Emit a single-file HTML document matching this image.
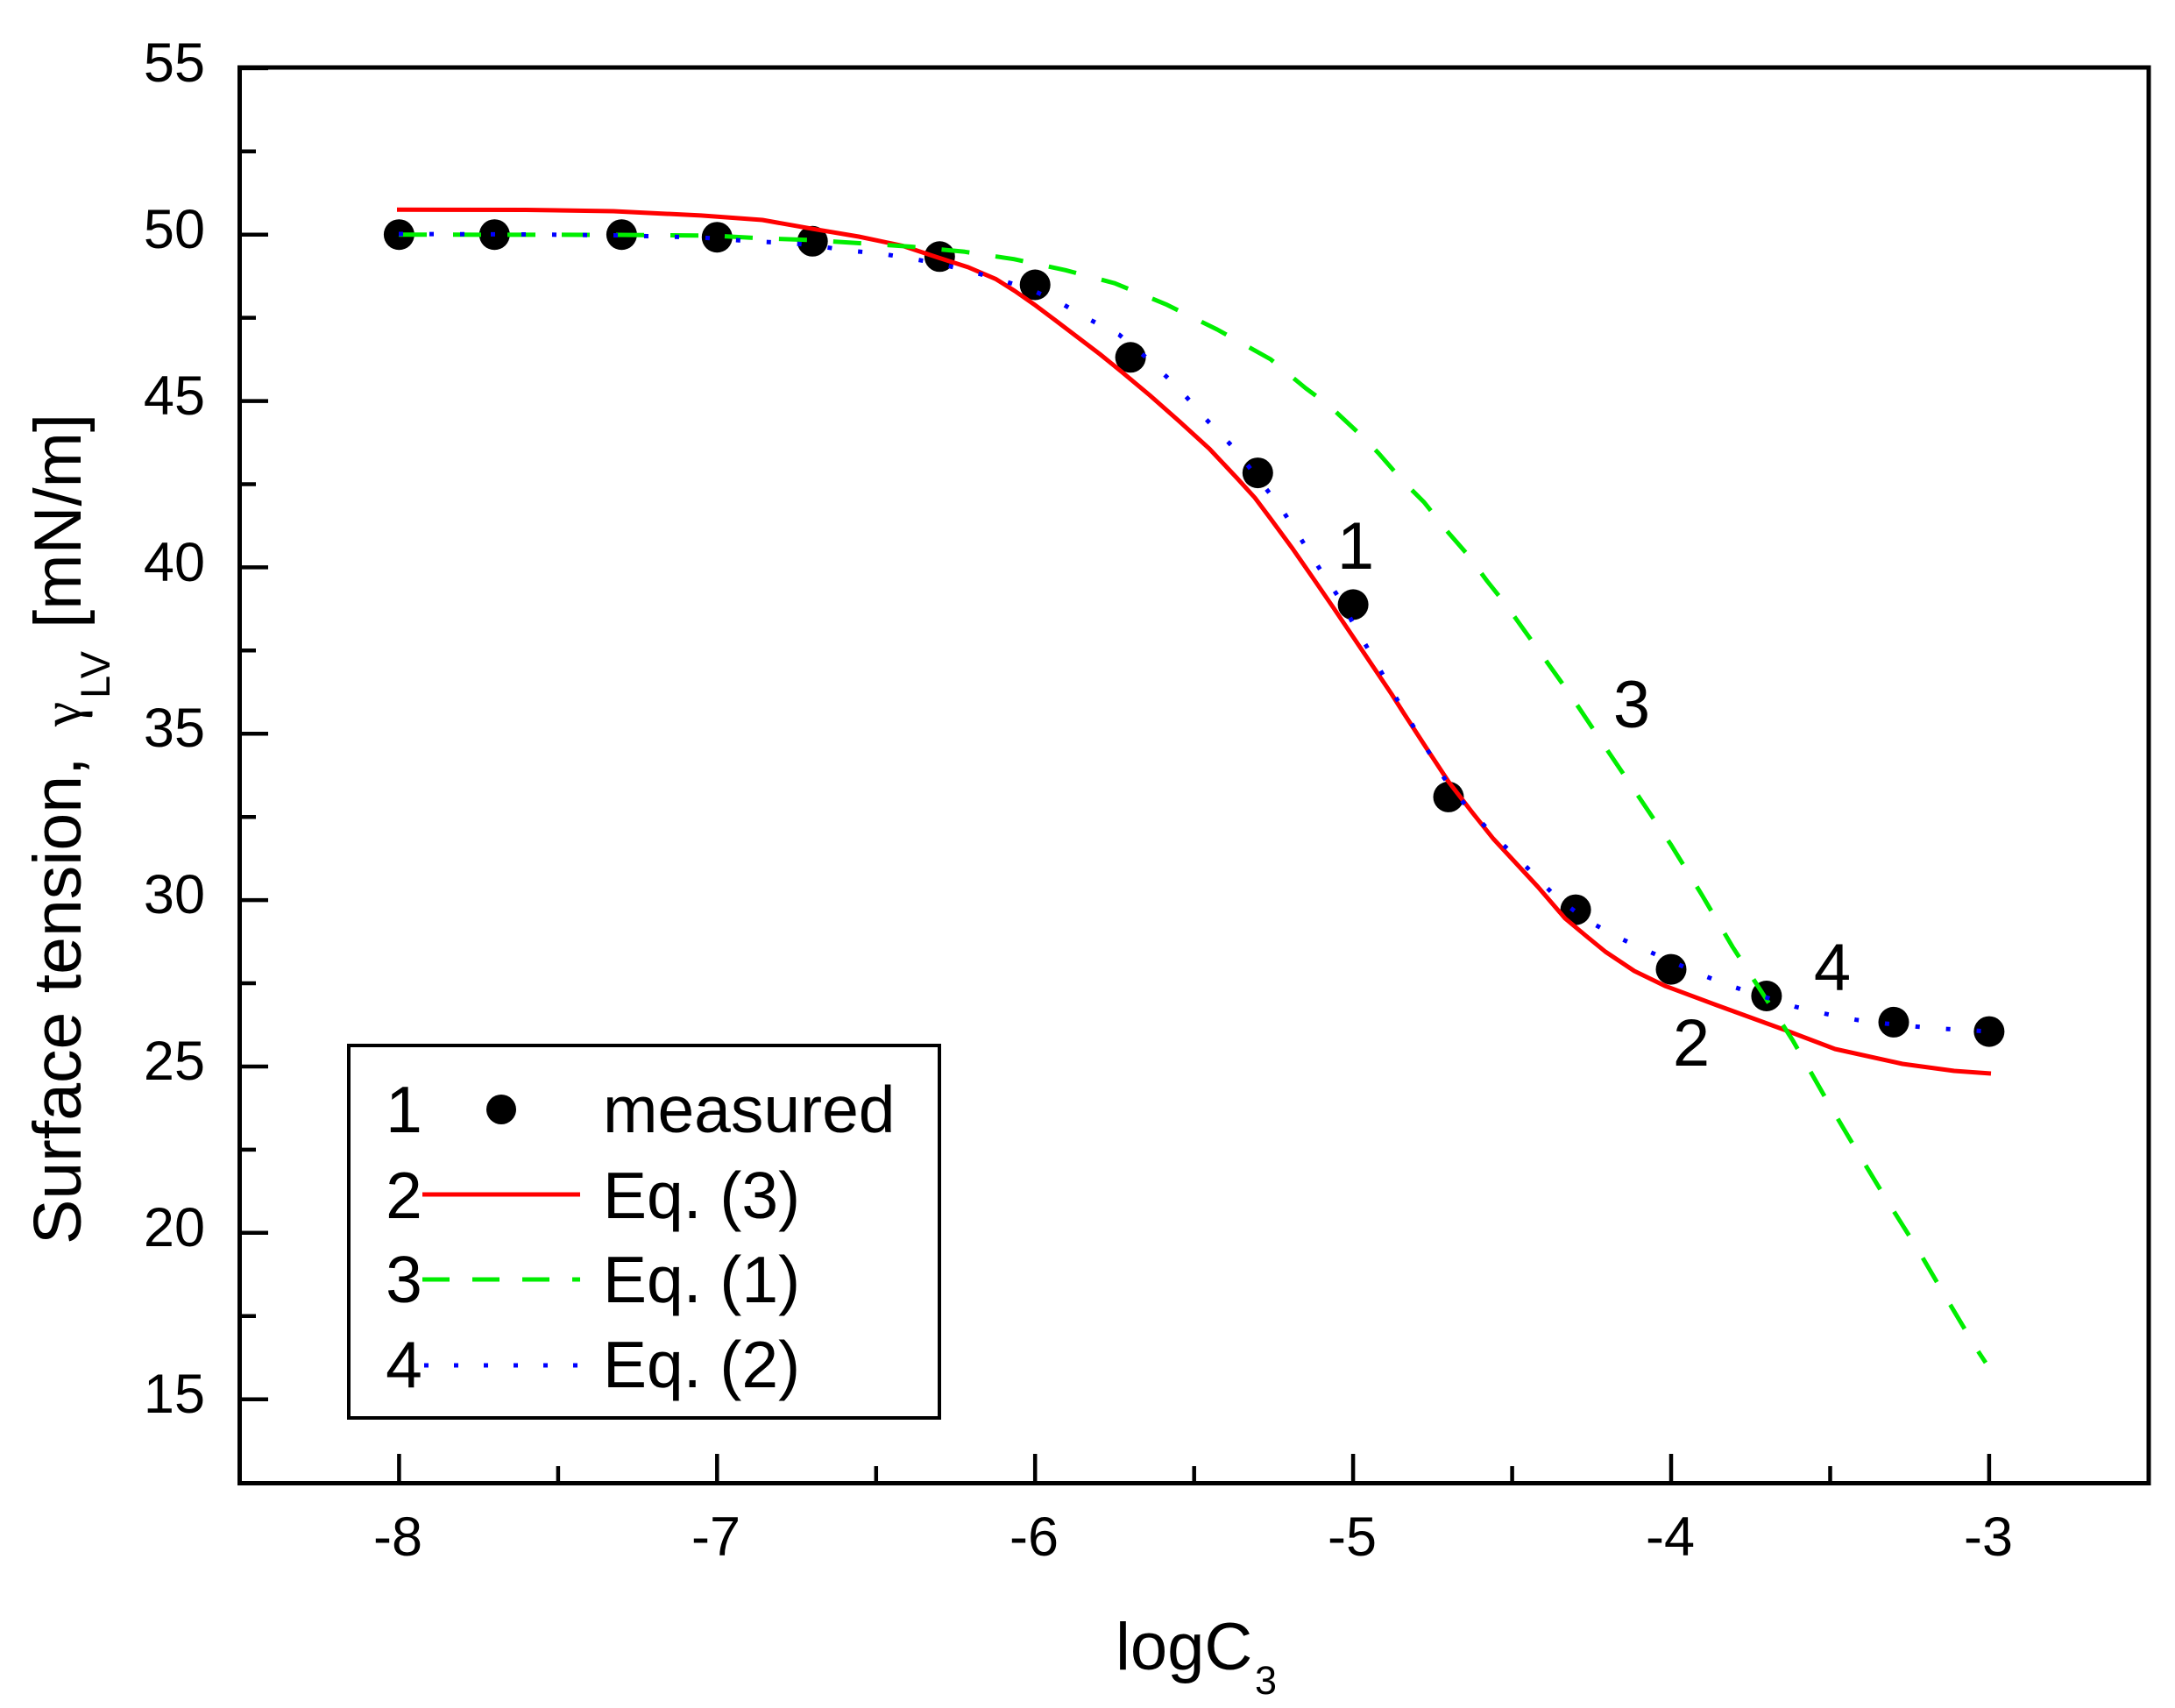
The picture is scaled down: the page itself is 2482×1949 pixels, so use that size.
<!DOCTYPE html>
<html>
<head>
<meta charset="utf-8">
<style>
  html, body { margin: 0; padding: 0; background: #ffffff; }
  svg { display: block; }
  text { font-family: "Liberation Sans", Arial, sans-serif; fill: #000; }
</style>
</head>
<body>
<svg width="2482" height="1949" viewBox="0 0 2482 1949" xmlns="http://www.w3.org/2000/svg">
  <rect x="0" y="0" width="2482" height="1949" fill="#ffffff"/>

  <!-- data points -->
  <g fill="#000">
    <circle cx="455.4" cy="267.7" r="17.5"/>
    <circle cx="564.3" cy="267.7" r="17.5"/>
    <circle cx="709.4" cy="267.7" r="17.5"/>
    <circle cx="818.3" cy="270.7" r="17.5"/>
    <circle cx="927.2" cy="275.3" r="17.5"/>
    <circle cx="1072.3" cy="292.8" r="17.5"/>
    <circle cx="1181.2" cy="325.0" r="17.5"/>
    <circle cx="1290.1" cy="407.8" r="17.5"/>
    <circle cx="1435.3" cy="539.6" r="17.5"/>
    <circle cx="1544.1" cy="689.9" r="17.5"/>
    <circle cx="1653.0" cy="909.4" r="17.5"/>
    <circle cx="1798.1" cy="1038.1" r="17.5"/>
    <circle cx="1907.0" cy="1106.1" r="17.5"/>
    <circle cx="2015.9" cy="1136.5" r="17.5"/>
    <circle cx="2161.0" cy="1166.4" r="17.5"/>
    <circle cx="2269.9" cy="1177.1" r="17.5"/>
  </g>

  <!-- Eq. (3) red solid -->
  <polyline fill="none" stroke="#ff0000" stroke-width="5" stroke-linejoin="round" stroke-linecap="butt"
    points="453,239.3 600,239.5 700,241 800,245.9 870,251 927.6,261.2 980,270 1029.6,280.4 1070,293.8 1105,305 1136.7,318.6 1158,332 1180,347.3 1205,366 1230,385 1255,404 1279.6,423.9 1312,451 1346,481 1380,512 1412,546 1432,568 1450,592 1475,626 1500,662 1522,694 1551,737 1588,792 1602,814 1628,854 1653,892 1680,927 1704,957 1730,985 1755,1012 1786,1048 1810,1068 1832,1086 1865,1108 1900,1125 1959,1147 2036,1175 2094,1197 2171,1214 2230,1222 2272,1225"/>

  <!-- Eq. (1) green dashed -->
  <polyline fill="none" stroke="#00ee00" stroke-width="5" stroke-dasharray="32 30" stroke-linejoin="round"
    points="455,267.7 700,268 815,268.9 869,272 925,273.9 983.7,277.7 1040,281.5 1101,287.3 1157,295.7 1216,308.3 1272,323.2 1330.6,347.3 1389,376 1450,410 1490,443 1517,463 1547,491 1573,517 1600,548 1625,573 1653,608 1674,632 1697,663 1717,688 1750,734 1791,791.4 1830.6,850.7 1868,906 1906.6,963.6 1942,1021 1977,1080.3 2012.8,1135.8 2046,1187.5 2083,1252.6 2117,1310 2151.8,1367.4 2188,1424.8 2222.6,1484 2257,1541.5 2266,1555"/>

  <!-- Eq. (2) blue dotted -->
  <polyline fill="none" stroke="#0000ff" stroke-width="5" stroke-dasharray="5 30" stroke-linejoin="round"
    points="455,267 600,267.5 700,268.5 800,271 833,273.5 866,275.8 902,277.3 935,281 968,286 1004,289.2 1037,294.5 1072,301 1105,309 1139,318.6 1175,330 1208,344.3 1241,363.4 1277,381.8 1310,409.7 1345,443 1376.5,478.6 1408.7,511.9 1435,545 1462,580 1484.7,615.2 1505.6,648.5 1528.6,683 1547,716.6 1568,752 1587,786 1607,819.3 1627.6,853.3 1648,887.8 1676,923.4 1709,957.8 1743,990.4 1777,1024.8 1811,1050 1845,1069 1880,1085 1914,1100 1948,1114.7 1981,1127 2015,1138 2049.5,1149 2083,1156.8 2118,1163.7 2152,1168 2186,1171.4 2219,1174 2270,1177"/>

  <!-- frame -->
  <rect x="273.5" y="77" width="2178.5" height="1615.5" fill="none" stroke="#000" stroke-width="5"/>

  <!-- y ticks -->
  <g stroke="#000" stroke-width="4.5">
    <line x1="273.5" y1="77.9" x2="306" y2="77.9"/>
    <line x1="273.5" y1="172.8" x2="292" y2="172.8"/>
    <line x1="273.5" y1="267.7" x2="306" y2="267.7"/>
    <line x1="273.5" y1="362.6" x2="292" y2="362.6"/>
    <line x1="273.5" y1="457.6" x2="306" y2="457.6"/>
    <line x1="273.5" y1="552.5" x2="292" y2="552.5"/>
    <line x1="273.5" y1="647.4" x2="306" y2="647.4"/>
    <line x1="273.5" y1="742.3" x2="292" y2="742.3"/>
    <line x1="273.5" y1="837.3" x2="306" y2="837.3"/>
    <line x1="273.5" y1="932.2" x2="292" y2="932.2"/>
    <line x1="273.5" y1="1027.1" x2="306" y2="1027.1"/>
    <line x1="273.5" y1="1122" x2="292" y2="1122"/>
    <line x1="273.5" y1="1217" x2="306" y2="1217"/>
    <line x1="273.5" y1="1311.9" x2="292" y2="1311.9"/>
    <line x1="273.5" y1="1406.8" x2="306" y2="1406.8"/>
    <line x1="273.5" y1="1501.7" x2="292" y2="1501.7"/>
    <line x1="273.5" y1="1596.7" x2="306" y2="1596.7"/>
  </g>
  <!-- x ticks -->
  <g stroke="#000" stroke-width="4.5">
    <line x1="455.4" y1="1692.5" x2="455.4" y2="1659"/>
    <line x1="636.9" y1="1692.5" x2="636.9" y2="1673"/>
    <line x1="818.3" y1="1692.5" x2="818.3" y2="1659"/>
    <line x1="999.8" y1="1692.5" x2="999.8" y2="1673"/>
    <line x1="1181.2" y1="1692.5" x2="1181.2" y2="1659"/>
    <line x1="1362.7" y1="1692.5" x2="1362.7" y2="1673"/>
    <line x1="1544.1" y1="1692.5" x2="1544.1" y2="1659"/>
    <line x1="1725.6" y1="1692.5" x2="1725.6" y2="1673"/>
    <line x1="1907" y1="1692.5" x2="1907" y2="1659"/>
    <line x1="2088.5" y1="1692.5" x2="2088.5" y2="1673"/>
    <line x1="2269.9" y1="1692.5" x2="2269.9" y2="1659"/>
  </g>

  <!-- y tick labels -->
  <g font-size="63" text-anchor="end">
    <text x="234" y="93">55</text>
    <text x="234" y="283">50</text>
    <text x="234" y="473">45</text>
    <text x="234" y="663">40</text>
    <text x="234" y="852">35</text>
    <text x="234" y="1042">30</text>
    <text x="234" y="1232">25</text>
    <text x="234" y="1422">20</text>
    <text x="234" y="1612">15</text>
  </g>
  <!-- x tick labels -->
  <g font-size="63" text-anchor="middle">
    <text x="454" y="1775">-8</text>
    <text x="817" y="1775">-7</text>
    <text x="1180" y="1775">-6</text>
    <text x="1543" y="1775">-5</text>
    <text x="1906" y="1775">-4</text>
    <text x="2269" y="1775">-3</text>
  </g>

  <!-- x axis title -->
  <text x="1273" y="1905" font-size="76">logC</text>
  <text x="1432" y="1933" font-size="45">3</text>

  <!-- y axis title -->
  <text transform="translate(92,1420) rotate(-90)" font-size="77">Surface tension,</text>
  <text transform="translate(92,829) rotate(-90)" font-size="64" style="font-family:'Liberation Serif','DejaVu Serif',serif">γ</text>
  <text transform="translate(125,797) rotate(-90)" font-size="47">LV</text>
  <text transform="translate(92,472) rotate(-90)" font-size="76" text-anchor="end">[mN/m]</text>

  <!-- curve annotations -->
  <g font-size="76" text-anchor="middle">
    <text x="1547" y="649">1</text>
    <text x="1862" y="830">3</text>
    <text x="2091" y="1130">4</text>
    <text x="1930" y="1216">2</text>
  </g>

  <!-- legend -->
  <rect x="398" y="1193" width="674" height="425" fill="#ffffff" stroke="#000" stroke-width="4"/>
  <g font-size="75">
    <text x="461" y="1292" text-anchor="middle">1</text>
    <text x="461" y="1390" text-anchor="middle">2</text>
    <text x="461" y="1486" text-anchor="middle">3</text>
    <text x="461" y="1583" text-anchor="middle">4</text>
    <text x="688" y="1292">measured</text>
    <text x="688" y="1390">Eq. (3)</text>
    <text x="688" y="1486">Eq. (1)</text>
    <text x="688" y="1583">Eq. (2)</text>
  </g>
  <circle cx="572" cy="1266" r="17" fill="#000"/>
  <line x1="482" y1="1363" x2="662" y2="1363" stroke="#ff0000" stroke-width="5"/>
  <line x1="482" y1="1460" x2="662" y2="1460" stroke="#00ee00" stroke-width="5" stroke-dasharray="31 26"/>
  <line x1="484" y1="1558" x2="664" y2="1558" stroke="#0000ff" stroke-width="5" stroke-dasharray="5 29"/>
</svg>
</body>
</html>
